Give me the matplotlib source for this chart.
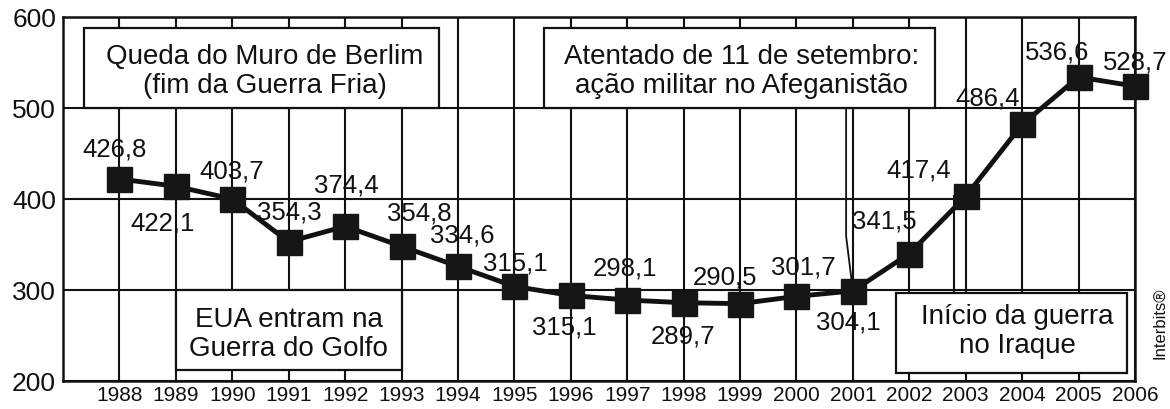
import matplotlib
matplotlib.use("Agg")
import matplotlib.pyplot as plt
from matplotlib.patches import Rectangle

plt.rcParams['font.family'] = ['Liberation Sans', 'DejaVu Sans']

# ---- data ----
years = list(range(1988, 2007))
values = [422, 414, 400, 353, 370, 348, 326, 304, 294, 289, 286, 285,
          293, 299, 340, 403, 482, 534, 524]
labels = ["426,8", "422,1", "403,7", "354,3", "374,4", "354,8", "334,6",
          "315,1", "315,1", "298,1", "289,7", "290,5", "301,7", "304,1",
          "341,5", "417,4", "486,4", "536,6", "528,7"]
yticks = [200, 300, 400, 500, 600]
box_texts = ["Queda do Muro de Berlim\n(fim da Guerra Fria)",
             "Atentado de 11 de setembro:\nação militar no Afeganistão",
             "EUA entram na\nGuerra do Golfo",
             "Início da guerra\nno Iraque"]

# ---- styling / layout ----
label_offsets = [(-5, 30), (-13, -36), (-1, 28), (1, 30), (1, 42), (18, 34),
                 (4, 32), (1, 24), (-6, -31), (-2, 33), (-1, -33), (-15, 27),
                 (7, 30), (-5, -31), (-25, 33), (-47, 27), (-35, 27),
                 (-21, 26), (0, 25)]
boxes = [(1987.37, 500, 6.30, 88), (1995.53, 500, 6.93, 88),
         (1989.0, 212, 4.0, 88), (2001.77, 209, 4.08, 88)]
box_text_pos = [(1990.58, 541), (1999.02, 541), (1991.0, 252), (2003.91, 255)]

W, H = 1170, 410
fig = plt.figure(figsize=(W / 100, H / 100), dpi=100)
ax = fig.add_axes([63 / W, (H - 382) / H, (1135 - 63) / W, (382 - 18) / H])
ax.set_xlim(1987, 2006)
ax.set_ylim(200, 600)

ax.set_xticks(years)
ax.set_xticklabels([str(y) for y in years], fontsize=15)
ax.set_yticks(yticks)
ax.set_yticklabels([str(v) for v in yticks], fontsize=19)
ax.tick_params(axis='both', length=0, colors='#111111')
ax.tick_params(axis='x', pad=3)
ax.tick_params(axis='y', pad=5)
ax.grid(True, color='#111111', linewidth=1.5, zorder=0.5)
ax.set_axisbelow(True)
for s in ax.spines.values():
    s.set_linewidth(1.8)
    s.set_color('#111111')

# annotation boxes
for (x0, y0, w, h), txt, (tx, ty) in zip(boxes, box_texts, box_text_pos):
    ax.add_patch(Rectangle((x0, y0), w, h, facecolor='white',
                           edgecolor='#111111', linewidth=1.6, zorder=2,
                           clip_on=False))
    ax.text(tx, ty, txt, ha='center', va='center', fontsize=20,
            linespacing=1.15, color='#111111', zorder=2.2)

# pointer lines
ax.plot([2000.88, 2000.88, 2001.0], [500, 359, values[13]], color='#111111',
        linewidth=1.3, zorder=2.5)
ax.plot([2002.8, 2002.8], [values[15], 297], color='#111111',
        linewidth=1.5, zorder=2.5)

# data line
ax.plot(years, values, color='#111111', linewidth=3.5, marker='s',
        markersize=18, markerfacecolor='#161616', markeredgecolor='#161616',
        zorder=3, clip_on=False)

for x, v, lab, (dx, dy) in zip(years, values, labels, label_offsets):
    ax.annotate(lab, (x, v), xytext=(dx, dy), textcoords='offset pixels',
                ha='center', va='center', fontsize=18.5, color='#111111',
                zorder=4, annotation_clip=False)

fig.text(1160 / W, 1 - 323 / H, "Interbits®", rotation=90, fontsize=12,
         ha='center', va='center', color='#111111')

fig.savefig("out.png", dpi=100)
